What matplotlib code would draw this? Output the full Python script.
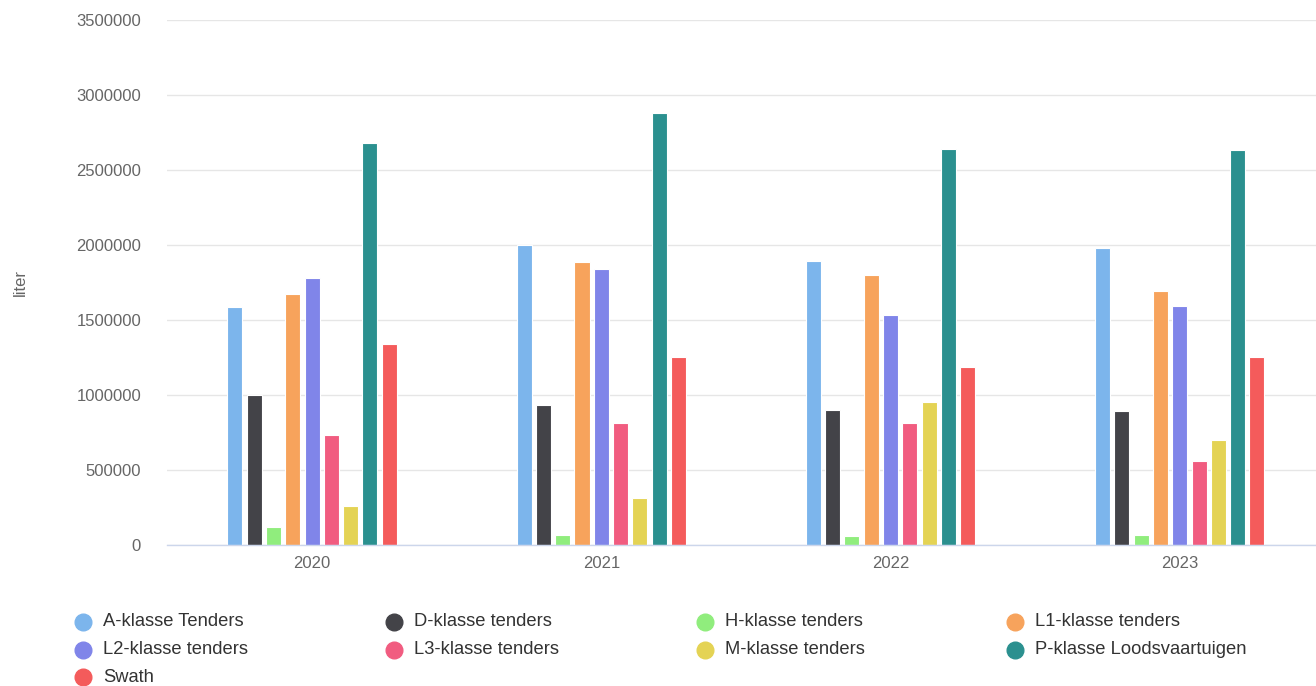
"""Grouped bar chart: fuel use (liter) per vessel class, 2020-2023."""

import matplotlib.pyplot as plt
import numpy as np
from matplotlib.lines import Line2D

plt.rcParams["font.family"] = ["Liberation Sans", "DejaVu Sans"]

years = ["2020", "2021", "2022", "2023"]

series_names = [
    "A-klasse Tenders",
    "D-klasse tenders",
    "H-klasse tenders",
    "L1-klasse tenders",
    "L2-klasse tenders",
    "L3-klasse tenders",
    "M-klasse tenders",
    "P-klasse Loodsvaartuigen",
    "Swath",
]

a_klasse = [1590000, 2000000, 1896000, 1980000]
d_klasse = [1000000, 933000, 902000, 891000]
h_klasse = [122000, 67000, 58000, 67000]
l1_klasse = [1676000, 1884000, 1800000, 1691000]
l2_klasse = [1781000, 1840000, 1531000, 1596000]
l3_klasse = [733000, 815000, 815000, 560000]
m_klasse = [260000, 313000, 953000, 700000]
p_klasse = [2683000, 2878000, 2642000, 2631000]
swath = [1342000, 1253000, 1189000, 1253000]

colors = ["#7cb5ec", "#434348", "#90ed7d", "#f7a35c", "#8085e9",
          "#f15c80", "#e4d354", "#2b908f", "#f45b5b"]

all_series = [a_klasse, d_klasse, h_klasse, l1_klasse, l2_klasse,
              l3_klasse, m_klasse, p_klasse, swath]

fig = plt.figure(figsize=(13.16, 6.86), dpi=100)
ax = fig.add_axes([167.4 / 1316, 141 / 686, 1157 / 1316, 525 / 686])

x = np.arange(len(years))
pitch = 0.0667
width = 0.052
n = len(all_series)
for i, (vals, col) in enumerate(zip(all_series, colors)):
    offset = (i - (n - 1) / 2) * pitch
    ax.bar(x + offset, vals, width=width, color=col, edgecolor="white",
           linewidth=0.8, zorder=3)

ax.set_xlim(-0.5, len(years) - 0.5)
ax.set_ylim(0, 3500000)
ax.set_yticks(np.arange(0, 3500001, 500000))
ax.set_yticklabels([f"{int(v)}" for v in np.arange(0, 3500001, 500000)])
ax.set_xticks(x)
ax.set_xticklabels(years)
ax.tick_params(axis="y", length=0, pad=19, labelsize=12, labelcolor="#666666")
ax.tick_params(axis="x", length=0, pad=8, labelsize=12, labelcolor="#666666")
ax.grid(axis="y", color="#e6e6e6", linewidth=1, zorder=0)
for side in ("top", "right", "left"):
    ax.spines[side].set_visible(False)
ax.spines["bottom"].set_color("#ccd6eb")
ax.spines["bottom"].set_linewidth(1)
ax.spines["bottom"].set_zorder(4)

fig.text(20 / 1316, 1 - 283 / 686, "liter", rotation=90, ha="center",
         va="center", fontsize=12, color="#666666")

# legend, laid out row-major in four columns
col_x = [83, 394, 705, 1015]
row_y = [622, 650, 677]
for i, (name, col) in enumerate(zip(series_names, colors)):
    r, c = divmod(i, 4)
    px, py = col_x[c], row_y[r]
    fig.add_artist(Line2D([px / 1316], [1 - py / 686], marker="o",
                          markersize=12, color=col, linestyle="none",
                          transform=fig.transFigure))
    fig.text((px + 20) / 1316, 1 - py / 686, name, ha="left", va="center",
             fontsize=13.2, color="#333333")

fig.savefig("out.png", dpi=100)
